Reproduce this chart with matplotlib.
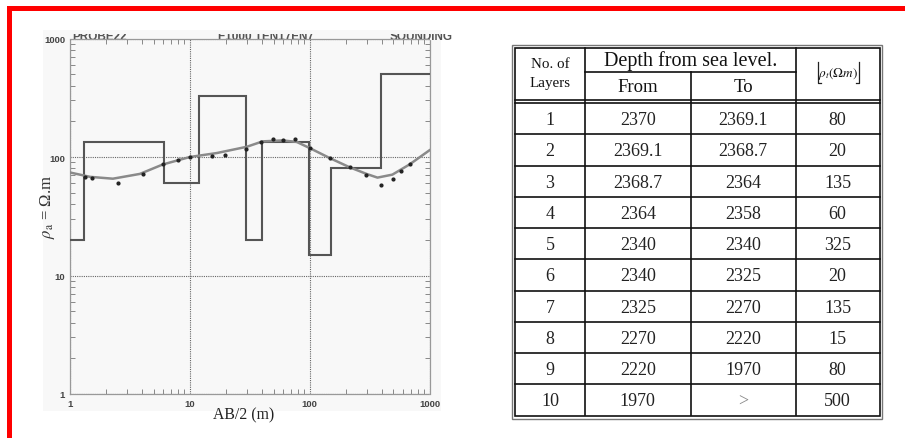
import matplotlib
matplotlib.use("Agg")
import matplotlib.pyplot as plt
from matplotlib.patches import Rectangle
from matplotlib.transforms import Bbox, TransformedBbox
from matplotlib.ticker import LogLocator, NullFormatter, FixedLocator
import numpy as np

plt.rcParams['mathtext.fontset'] = 'stix'

# ---------------- data ----------------
# table
layers = [1, 2, 3, 4, 5, 6, 7, 8, 9, 10]
depth_from = ["2370", "2369.1", "2368.7", "2364", "2340", "2340", "2325", "2270", "2220", "1970"]
depth_to = ["2369.1", "2368.7", "2364", "2358", "2340", "2325", "2270", "2220", "1970", ">"]
resistivity = [80, 20, 135, 60, 325, 20, 135, 15, 80, 500]

# layered model drawn on the chart (AB/2 boundaries, resistivity of each step)
model_ab = [1.0, 1.31, 6.07, 11.95, 29.7, 39.8, 98.1, 150, 391, 1000]
model_rho = resistivity[1:]

# calculated (fitted) curve
curve_ab = [1.0, 1.47, 2.28, 3.83, 5.95, 10.0, 16.8, 29.9, 40.5, 59.6, 78, 100, 147, 215, 298, 368, 490, 681, 1000]
curve_rho = [74, 68, 65.6, 72, 86.5, 100, 108, 122, 135.5, 138, 134, 119, 98, 82, 72, 67, 71, 86.5, 114]

# observed field data
obs_ab = [1.33, 1.52, 2.53, 4.08, 5.99, 8.0, 10.0, 15.2, 19.6, 29.6, 39.6, 49.5, 59.6, 75, 100, 147, 215, 297, 396, 495, 581, 681]
obs_rho = [67.8, 66.4, 60.6, 72.3, 86.6, 93.5, 100, 102, 103, 117, 134, 141, 138, 141, 119, 98, 82, 70.8, 58.6, 64.7, 76, 86.5]

x_ticks = [1, 10, 100, 1000]
y_ticks = [1, 10, 100, 1000]

# ---------------- figure ----------------
W, H = 905, 439
fig = plt.figure(figsize=(W / 100, H / 100), dpi=100)
fig.patch.set_facecolor('white')

ov = fig.add_axes([0, 0, 1, 1], zorder=0)
ov.set_xlim(0, W)
ov.set_ylim(H, 0)
ov.axis('off')

# red frame
ov.add_patch(Rectangle((7, 7), W - 7, 4.5, color='#ff0000', lw=0))
ov.add_patch(Rectangle((7, 7), 4.5, H - 7, color='#ff0000', lw=0))

# faint background of the pasted chart image
ov.add_patch(Rectangle((43, 31), 398, 381, color='#f8f8f8', lw=0))

# ---------------- chart ----------------
ax = fig.add_axes([70 / W, 1 - 395 / H, 359.5 / W, 355.5 / H], zorder=2)
ax.set_facecolor('none')
ax.set_xscale('log')
ax.set_yscale('log')
ax.set_xlim(1, 1000)
ax.set_ylim(1, 1000)

# model steps
ax.stairs(model_rho, model_ab, color='#555555', lw=1.5, baseline=None, zorder=3)
# calculated curve
ax.plot(curve_ab, curve_rho, color='#8a8a8a', lw=1.8, zorder=4)
# observed points
ax.plot(obs_ab, obs_rho, ls='none', marker='o', ms=2.0, color='#222222', zorder=5)

ax.grid(True, which='major', color='#666666', ls=(0, (1, 1)), lw=0.8)
for s in ax.spines.values():
    s.set_linestyle((0, (1, 1)))
    s.set_color('#999999')
    s.set_linewidth(0.9)

ax.xaxis.set_major_locator(FixedLocator(x_ticks))
ax.yaxis.set_major_locator(FixedLocator(y_ticks))
ax.set_xticklabels([str(v) for v in x_ticks])
ax.set_yticklabels([str(v) for v in y_ticks])
ax.xaxis.set_minor_locator(LogLocator(base=10, subs=np.arange(2, 10)))
ax.yaxis.set_minor_locator(LogLocator(base=10, subs=np.arange(2, 10)))
ax.xaxis.set_minor_formatter(NullFormatter())
ax.yaxis.set_minor_formatter(NullFormatter())
ax.tick_params(which='major', length=0, labelsize=6.8, labelcolor='#444444', pad=3.5)
ax.tick_params(which='minor', direction='in', length=3.5, width=0.7, color='#888888',
               top=True, right=True)
for lab in ax.get_xticklabels() + ax.get_yticklabels():
    lab.set_fontfamily('Liberation Sans')
    lab.set_fontweight('bold')

ov.text(47, 207, r'$\rho_{\rm a}$ = Ω.m', rotation=90, ha='center', va='center',
        fontsize=12, family='Liberation Serif', color='#333333')
ov.text(244, 415, 'AB/2 (m)', ha='center', va='center', fontsize=11.3,
        family='Liberation Serif', color='#222222')

# clipped header fragments of the original chart image
clip = TransformedBbox(Bbox.from_extents(0, 0, 1, 1 - 34.5 / H), fig.transFigure)
for xx, txt in [(72, 'PROBE22'), (218, 'F1000 TEN17EN7'), (390, 'SOUNDING')]:
    t = ov.text(xx, 39.5, txt, ha='left', va='baseline', fontsize=8.5, fontweight='bold',
                family='Liberation Sans', color='#555555')
    t.set_clip_box(clip)
    t.set_clip_on(True)

# ---------------- table ----------------
col_x = [515, 585, 690.5, 795.5, 879.5]
top_in, bot_in = 49, 416.5
head_mid, head_bot = 73, 101
rows_top = 104
row_h = (bot_in - rows_top) / len(layers)
lc = '#111111'

# outer double border
ov.add_patch(Rectangle((512, 45.5), 370, 374, fill=False, ec='#777777', lw=1.0))
ov.add_patch(Rectangle((col_x[0], top_in), col_x[-1] - col_x[0], bot_in - top_in,
                       fill=False, ec=lc, lw=1.2))
# vertical lines
for x in col_x[1:-1]:
    y0 = head_mid if x == col_x[2] else top_in
    ov.plot([x, x], [y0, bot_in], color=lc, lw=1.2)
# header lines
ov.plot([col_x[1], col_x[3]], [head_mid, head_mid], color=lc, lw=1.2)
ov.plot([col_x[0], col_x[-1]], [head_bot, head_bot], color=lc, lw=1.2)
ov.plot([col_x[0], col_x[-1]], [rows_top, rows_top], color=lc, lw=1.2)
for i in range(1, len(layers)):
    y = rows_top + i * row_h
    ov.plot([col_x[0], col_x[-1]], [y, y], color=lc, lw=1.2)

tf = dict(family='Liberation Serif', color='#111111', ha='center', va='center')
ov.text((col_x[0] + col_x[1]) / 2, 65, 'No. of', fontsize=10.8, **tf)
ov.text((col_x[0] + col_x[1]) / 2, 83, 'Layers', fontsize=10.8, **tf)
ov.text((col_x[1] + col_x[3]) / 2, 61, 'Depth from sea level.', fontsize=14.5, **tf)
ov.text((col_x[1] + col_x[2]) / 2, 88, 'From', fontsize=13.5, **tf)
ov.text((col_x[2] + col_x[3]) / 2, 88, 'To', fontsize=13.5, **tf)
cx4 = (col_x[3] + col_x[4]) / 2
ov.text(cx4 + 1, 74, r'$\rho_t(\Omega m)$', fontsize=9.5, **tf)
# floor brackets around the header
for xb, d in [(cx4 - 20, 1), (cx4 + 21, -1)]:
    ov.plot([xb, xb, xb + 3 * d], [63, 84, 84], color='#222222', lw=0.9)

for i in range(len(layers)):
    yc = rows_top + (i + 0.5) * row_h + 1
    vals = [str(layers[i]), depth_from[i], depth_to[i], str(resistivity[i])]
    for j, v in enumerate(vals):
        ov.text((col_x[j] + col_x[j + 1]) / 2, yc, v, fontsize=13,
                color='#222222' if v != '>' else '#888888',
                family='Liberation Serif', ha='center', va='center')

fig.savefig('out.png', dpi=100)
